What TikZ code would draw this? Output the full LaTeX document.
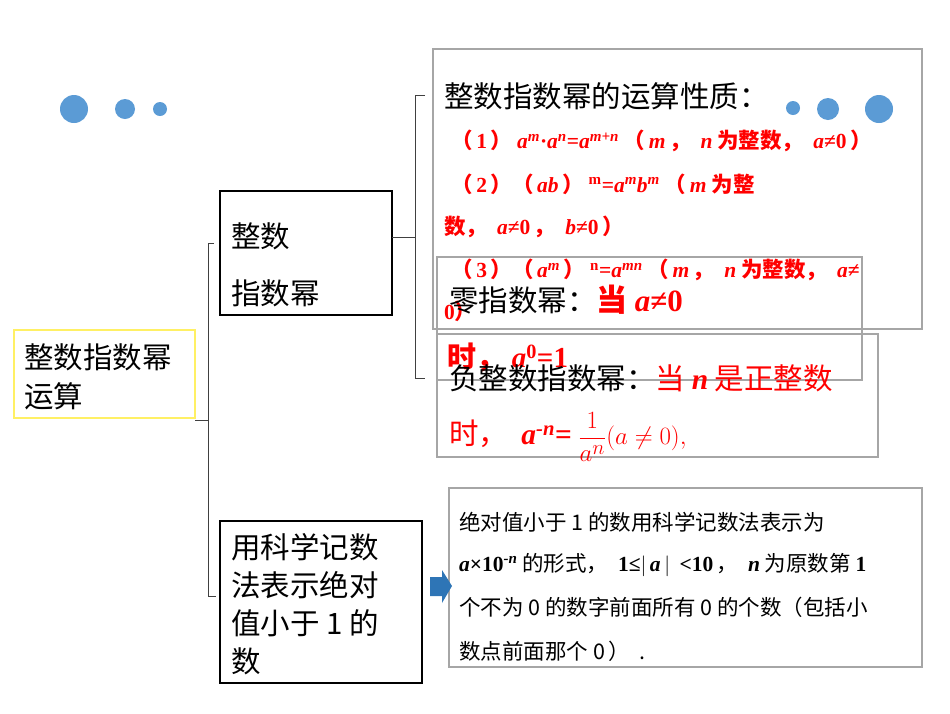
\documentclass[tikz,border=0pt]{standalone}
\usepackage{fontspec}
\setmainfont{Noto Sans CJK SC}
\newfontfamily\tms{Liberation Serif}
\definecolor{dotblue}{HTML}{5B9BD5}
\definecolor{redt}{HTML}{FF0000}
\definecolor{boxgray}{HTML}{A6A6A6}
\newcommand{\vi}[1]{{\tms\bfseries\itshape #1}}
\newcommand{\vr}[1]{{\tms\bfseries #1}}
\newcommand{\su}[1]{\textsuperscript{#1}}
\begin{document}
\begin{tikzpicture}[x=1pt,y=-1pt,
  dot/.style={fill=dotblue,draw=none},
  gbox/.style={draw=boxgray,line width=1.2pt},
  bbox/.style={draw=black,line width=1.2pt},
  txt/.style={anchor=west,inner sep=0pt,font=\fontsize{29.5}{32}\selectfont},
  rtxt/.style={anchor=west,inner sep=0pt,text=redt,font=\fontsize{21.5}{24}\selectfont\bfseries},
  stxt/.style={anchor=west,inner sep=0pt,font=\fontsize{21.5}{24}\selectfont},
  br/.style={draw=black!75,line width=1pt}]
\useasboundingbox (0,0) rectangle (950,713);
% dots
\fill[dot] (74,109) circle (14); \fill[dot] (125,109) circle (10); \fill[dot] (160,109) circle (7);
\fill[dot] (793,108) circle (7); \fill[dot] (828,109) circle (11); \fill[dot] (879,109) circle (14);
% boxes
\draw[draw={rgb,255:red,255;green,240;blue,100},line width=1.5pt] (14,330) rectangle (195,418);
\node[txt] (t1) at (24,357) {整数指数幂};
\node[txt] at (24,396) {运算};
\draw[bbox] (220,191) rectangle (392,315);
\node[txt] at (231,236) {整数};
\node[txt] at (231,293) {指数幂};
\draw[bbox] (220,521) rectangle (422,683);
\node[txt] at (231,547) {用科学记数};
\node[txt] at (231,585) {法表示绝对};
\node[txt] at (231,623) {值小于 1 的};
\node[txt] at (231,661) {数};
% brackets
\draw[br] (195,420) -- (208,420);
\draw[br] (214,243) -- (208,243) -- (208,596) -- (216,596);
\draw[br] (392,237) -- (415,237);
\draw[br] (425,95) -- (415,95) -- (415,378) -- (425,378);
% big box
\draw[gbox] (433,49) rectangle (922,329);
\node[txt] at (444,96) {整数指数幂的运算性质：};
\node[rtxt] at (451,141) {（\,\vr{1}\,）\ \vi{a}\su{\vi{m}}\vr{·}\vi{a}\su{\vi{n}}\vr{=}\vi{a}\su{\vi{m+n}}\ （\,\vi{m}\,，\ \ \vi{n} 为整数，\ \ \vi{a}\vr{≠0}\,）};
\node[rtxt] at (451,184) {（\,\vr{2}\,）（\,\vi{ab}\,）\ \su{\vr{m}}\vr{=}\vi{a}\su{\vi{m}}\vi{b}\su{\vi{m}}\ （\,\vi{m} 为整};
\node[rtxt] at (444,227) {数，\ \ \vi{a}\vr{≠0}\,，\ \ \vi{b}\vr{≠0}\,）};
\node[rtxt] at (451,270) {（\,\vr{3}\,）（\,\vi{a}\su{\vi{m}}\,）\ \su{\vr{n}}\vr{=}\vi{a}\su{\vi{mn}}\ （\,\vi{m}\,，\ \ \vi{n} 为整数，\ \ \vi{a}\vr{≠}};
\node[rtxt] at (444,311) {\vr{0}）};
% zero box
\draw[gbox] (437,257) rectangle (862,380);
\node[txt] at (449,300) {零指数幂：{\color{redt}\bfseries\fontsize{31}{32}\selectfont 当 \vi{a}\vr{≠0}}};
\node[txt,text=redt,font=\fontsize{29}{32}\selectfont\bfseries] at (447,357) {时，\ \vi{a}\su{\vr{0}}\vr{=1}};
% negative box
\draw[gbox] (437,334) rectangle (878,457);
\node[txt] at (449,378) {负整数指数幂：{\color{redt}当 \vi{n} 是正整数}};
\node[txt,text=redt] at (449,437) {时，\ \ \vi{a}\su{\vi{-n}}\vr{=} {\tms$\displaystyle\frac{1}{a^n}(a\neq0),$}};
% sci box
\draw[gbox] (449,488) rectangle (922,667);
\node[stxt] at (459,522) {绝对值小于 1 的数用科学记数法表示为};
\node[stxt] at (459,565) {\vi{a}{\tms\bfseries×10}\su{\vi{-n}} 的形式，\ \ \vr{1≤}$\Bigl|$\,\vi{a}\,$\Bigr|$\ \ \vr{<10}\,，\ \ \vi{n} 为原数第 \vr{1}};
\node[stxt] at (459,607) {个不为 0 的数字前面所有 0 的个数（包括小};
\node[stxt] at (459,651) {数点前面那个 0\,）\ \ .};
% arrow
\fill[fill={rgb,255:red,46;green,117;blue,182}] (430,577) -- (442,577) -- (442,570) -- (452,586) -- (442,603) -- (442,596) -- (430,596) -- cycle;
\end{tikzpicture}
\end{document}
